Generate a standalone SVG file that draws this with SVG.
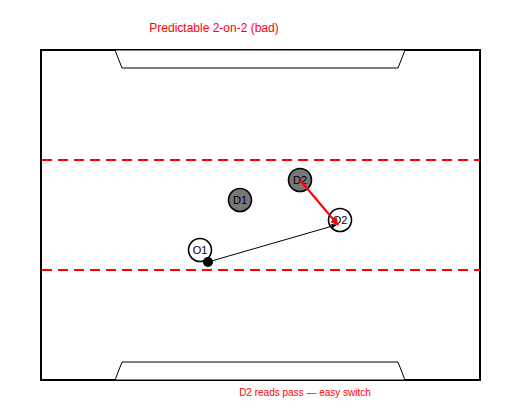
<svg xmlns="http://www.w3.org/2000/svg" width="520" height="420" viewBox="0 0 520 420">
<style>
.lbl{font-family:"Liberation Sans",Arial,sans-serif;}
.court{fill:none;stroke:#000;stroke-width:2}
.key{fill:#fff;stroke:#000;stroke-width:1}
.dash{stroke:#ff0000;stroke-width:2;stroke-dasharray:10 6}
.off{fill:#fff;stroke:#000;stroke-width:1.6}
.def{fill:#777;stroke:#000;stroke-width:1.6}
.ptxt{font-size:11px;text-anchor:middle;fill:#000}
</style>
<defs>
<marker id="ab" viewBox="0 0 10 10" refX="9" refY="5" markerWidth="5" markerHeight="5" orient="auto"><path d="M0,0 L10,5 L0,10 z" fill="#000"/></marker>
<marker id="ar" viewBox="0 0 10 10" refX="9" refY="5" markerWidth="4" markerHeight="4" orient="auto"><path d="M0,0 L10,5 L0,10 z" fill="#ff0000"/></marker>
</defs>
<rect width="520" height="420" fill="#fff"/>
<text class="lbl" x="214" y="32" font-size="12" fill="#ff0000" text-anchor="middle">Predictable 2-on-2 (bad)</text>
<g id="court">
<rect class="court" x="41" y="50" width="439" height="330"/>
<polygon class="key" points="115,50 122,68 398,68 405,50"/>
<polygon class="key" points="115,380 122,362 398,362 405,380"/>
<line class="dash" x1="42" y1="160" x2="480" y2="160"/>
<line class="dash" x1="42" y1="270" x2="480" y2="270"/>
</g>
<g id="D1"><circle class="def" cx="240" cy="200" r="11.5"/><text class="lbl ptxt" x="240" y="204">D1</text></g>
<g id="D2"><circle class="def" cx="300" cy="180" r="11.5"/><text class="lbl ptxt" x="300" y="184">D2</text></g>
<g id="O1"><circle class="off" cx="200" cy="250" r="11.5"/><text class="lbl ptxt" x="200" y="254">O1</text></g>
<g id="O2"><circle class="off" cx="340" cy="220" r="11.5"/><text class="lbl ptxt" x="340" y="224">O2</text></g>
<g id="connectors">
<line x1="208" y1="262" x2="336" y2="225" stroke="#000" stroke-width="1" marker-end="url(#ab)"/>
<line x1="300" y1="180" x2="338" y2="225" stroke="#ff0000" stroke-width="2" marker-end="url(#ar)"/>
</g>
<g id="ball"><circle cx="208" cy="262" r="5" fill="#000"/></g>
<text class="lbl" x="305" y="396" font-size="10" fill="#ff0000" text-anchor="middle">D2 reads pass — easy switch</text>
</svg>
